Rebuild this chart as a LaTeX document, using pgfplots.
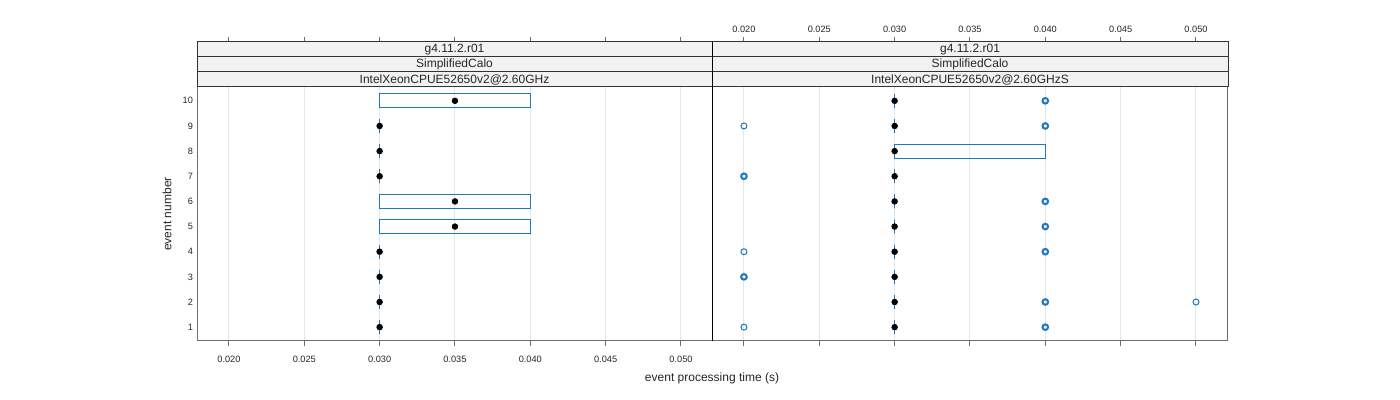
\documentclass[border=0pt]{standalone}
\usepackage{fontspec}
\setmainfont{Liberation Sans}
\usepackage{pgfplots}
\pgfplotsset{compat=1.18}
\usepgfplotslibrary{statistics}
\definecolor{boxblue}{RGB}{30,120,190}
\definecolor{gridgray}{RGB}{230,230,230}
\definecolor{stripfill}{RGB}{242,242,242}
\definecolor{framegray}{RGB}{110,110,110}
\pgfplotsset{
  panel/.style={
    scale only axis, width=257.5pt, height=149.5pt,
    xmin=0.01788, xmax=0.05206, ymin=0.45, ymax=12.339,
    scaled x ticks=false, scaled y ticks=false,
    xtick={0.020,0.025,0.030,0.035,0.040,0.045,0.050},
    xticklabels={0.020,0.025,0.030,0.035,0.040,0.045,0.050},
    ytick={1,2,3,4,5,6,7,8,9,10},
    tick align=outside, major tick length=2.5pt,
    xtick pos=both, ytick pos=left,
    ytick style={draw=none},
    xtick style={framegray, line width=0.5pt},
    axis line style={framegray, line width=0.5pt},
    xmajorgrids, major grid style={gridgray, line width=0.5pt},
    tick label style={font=\fontsize{4.6}{5}\selectfont, text=black!85},
    yticklabel style={xshift=4pt},
    boxplot/every median/.style={draw=none},
    clip=false,
  },
  bx/.style={boxblue, line width=0.5pt, solid},
}
\begin{document}
\begin{tikzpicture}
\path[use as bounding box] (0,0) rectangle (700pt,200pt);
% ---------------- left panel
\begin{axis}[panel, anchor=south west, at={(98.5pt,29.5pt)},
  xticklabel pos=lower, yticklabels={1,2,3,4,5,6,7,8,9,10},
  xticklabel style={yshift=-1.5pt}]
\addplot[bx, boxplot prepared={lower whisker=0.030, lower quartile=0.030, median=0.035, upper quartile=0.040, upper whisker=0.040, draw position=10, box extend=0.55, whisker extend=0.55}] coordinates {};
\addplot[bx, boxplot prepared={lower whisker=0.030, lower quartile=0.030, median=0.030, upper quartile=0.030, upper whisker=0.030, draw position=9, box extend=0.55, whisker extend=0.55}] coordinates {};
\addplot[bx, boxplot prepared={lower whisker=0.030, lower quartile=0.030, median=0.030, upper quartile=0.030, upper whisker=0.030, draw position=8, box extend=0.55, whisker extend=0.55}] coordinates {};
\addplot[bx, boxplot prepared={lower whisker=0.030, lower quartile=0.030, median=0.030, upper quartile=0.030, upper whisker=0.030, draw position=7, box extend=0.55, whisker extend=0.55}] coordinates {};
\addplot[bx, boxplot prepared={lower whisker=0.030, lower quartile=0.030, median=0.035, upper quartile=0.040, upper whisker=0.040, draw position=6, box extend=0.55, whisker extend=0.55}] coordinates {};
\addplot[bx, boxplot prepared={lower whisker=0.030, lower quartile=0.030, median=0.035, upper quartile=0.040, upper whisker=0.040, draw position=5, box extend=0.55, whisker extend=0.55}] coordinates {};
\addplot[bx, boxplot prepared={lower whisker=0.030, lower quartile=0.030, median=0.030, upper quartile=0.030, upper whisker=0.030, draw position=4, box extend=0.55, whisker extend=0.55}] coordinates {};
\addplot[bx, boxplot prepared={lower whisker=0.030, lower quartile=0.030, median=0.030, upper quartile=0.030, upper whisker=0.030, draw position=3, box extend=0.55, whisker extend=0.55}] coordinates {};
\addplot[bx, boxplot prepared={lower whisker=0.030, lower quartile=0.030, median=0.030, upper quartile=0.030, upper whisker=0.030, draw position=2, box extend=0.55, whisker extend=0.55}] coordinates {};
\addplot[bx, boxplot prepared={lower whisker=0.030, lower quartile=0.030, median=0.030, upper quartile=0.030, upper whisker=0.030, draw position=1, box extend=0.55, whisker extend=0.55}] coordinates {};
\addplot[only marks, mark=*, mark size=1.4pt, black] coordinates {
(0.035,10) (0.030,9) (0.030,8) (0.030,7) (0.035,6) (0.035,5) (0.030,4) (0.030,3) (0.030,2) (0.030,1)};
\end{axis}
% ---------------- right panel
\begin{axis}[panel, anchor=south west, at={(356pt,29.5pt)},
  xticklabel pos=upper, yticklabels={},
  xticklabel style={yshift=-1.5pt}]
\addplot[bx, boxplot prepared={lower whisker=0.030, lower quartile=0.030, median=0.030, upper quartile=0.030, upper whisker=0.030, draw position=10, box extend=0.55, whisker extend=0.55}] coordinates {};
\addplot[bx, boxplot prepared={lower whisker=0.030, lower quartile=0.030, median=0.030, upper quartile=0.030, upper whisker=0.030, draw position=9, box extend=0.55, whisker extend=0.55}] coordinates {};
\addplot[bx, boxplot prepared={lower whisker=0.030, lower quartile=0.030, median=0.030, upper quartile=0.040, upper whisker=0.040, draw position=8, box extend=0.55, whisker extend=0.55}] coordinates {};
\addplot[bx, boxplot prepared={lower whisker=0.030, lower quartile=0.030, median=0.030, upper quartile=0.030, upper whisker=0.030, draw position=7, box extend=0.55, whisker extend=0.55}] coordinates {};
\addplot[bx, boxplot prepared={lower whisker=0.030, lower quartile=0.030, median=0.030, upper quartile=0.030, upper whisker=0.030, draw position=6, box extend=0.55, whisker extend=0.55}] coordinates {};
\addplot[bx, boxplot prepared={lower whisker=0.030, lower quartile=0.030, median=0.030, upper quartile=0.030, upper whisker=0.030, draw position=5, box extend=0.55, whisker extend=0.55}] coordinates {};
\addplot[bx, boxplot prepared={lower whisker=0.030, lower quartile=0.030, median=0.030, upper quartile=0.030, upper whisker=0.030, draw position=4, box extend=0.55, whisker extend=0.55}] coordinates {};
\addplot[bx, boxplot prepared={lower whisker=0.030, lower quartile=0.030, median=0.030, upper quartile=0.030, upper whisker=0.030, draw position=3, box extend=0.55, whisker extend=0.55}] coordinates {};
\addplot[bx, boxplot prepared={lower whisker=0.030, lower quartile=0.030, median=0.030, upper quartile=0.030, upper whisker=0.030, draw position=2, box extend=0.55, whisker extend=0.55}] coordinates {};
\addplot[bx, boxplot prepared={lower whisker=0.030, lower quartile=0.030, median=0.030, upper quartile=0.030, upper whisker=0.030, draw position=1, box extend=0.55, whisker extend=0.55}] coordinates {};
% outliers: single points
\addplot[only marks, mark=o, mark size=1.5pt, boxblue, mark options={line width=0.5pt}] coordinates {
(0.020,9) (0.020,4) (0.050,2) (0.020,1)};
% outliers: repeated points (overplotted)
\addplot[only marks, mark=o, mark size=1.4pt, boxblue, mark options={line width=1pt}] coordinates {
(0.040,10) (0.040,9) (0.020,7) (0.040,6) (0.040,5) (0.040,4) (0.020,3) (0.040,2) (0.040,1)};
\addplot[only marks, mark=*, mark size=1.4pt, black] coordinates {
(0.030,10) (0.030,9) (0.030,8) (0.030,7) (0.030,6) (0.030,5) (0.030,4) (0.030,3) (0.030,2) (0.030,1)};
\end{axis}
% ---------------- strips
\begin{scope}[every node/.style={font=\fontsize{6}{7}\selectfont, text=black!85, inner sep=0pt}]
\foreach \xa/\xb/\lab in {98.5/356/IntelXeonCPUE52650v2@2.60GHz, 356/614/IntelXeonCPUE52650v2@2.60GHzS}{
  \draw[fill=stripfill, draw=black!80, line width=0.5pt] (\xa pt,156.5pt) rectangle (\xb pt,164pt);
  \node at ({(\xa+\xb)/2*1pt},160.25pt) {\lab};
  \draw[fill=stripfill, draw=black!80, line width=0.5pt] (\xa pt,164pt) rectangle (\xb pt,171.5pt);
  \node at ({(\xa+\xb)/2*1pt},167.75pt) {SimplifiedCalo};
  \draw[fill=stripfill, draw=black!80, line width=0.5pt] (\xa pt,171.5pt) rectangle (\xb pt,179pt);
  \node at ({(\xa+\xb)/2*1pt},175.25pt) {g4.11.2.r01};
}
\draw[black, line width=0.5pt] (356pt,29.5pt) -- (356pt,179pt);
\node at (356pt,11pt) {event processing time (s)};
\node[rotate=90] at (83.5pt,93pt) {event number};
\end{scope}
\end{tikzpicture}
\end{document}
